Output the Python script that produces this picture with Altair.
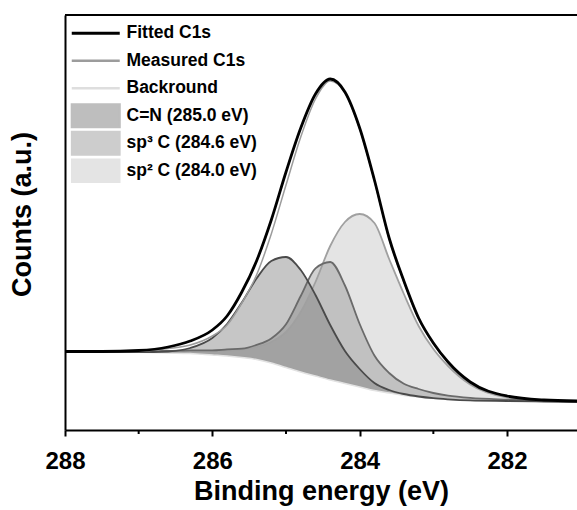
import altair as alt
import pandas as pd

# Binding energy grid (eV)
energy = [288.0, 287.5, 287.0, 286.6, 286.3, 286.0, 285.8, 285.6, 285.4, 285.2,
          285.0, 284.8, 284.6, 284.4, 284.2, 284.0, 283.8, 283.6, 283.4, 283.2,
          283.0, 282.8, 282.5, 282.0, 281.5, 281.05]

# Counts (a.u.)
background = [78, 78, 77.7, 77, 76.5, 75, 74, 72.5, 70.5, 67,
              62.5, 58, 54, 50, 46.5, 43, 39.5, 37, 34.5, 33,
              31.5, 30.5, 29.5, 29, 28.5, 28]
c_n = [78, 78, 77.8, 78.5, 82, 92, 106, 127.5, 151.5, 169,
       173, 160, 135, 105, 79, 61, 47, 40, 36, 33.5,
       31.8, 30.7, 29.6, 29, 28.5, 28]
sp3_c = [78.6, 78.7, 78.8, 79.0, 79.6, 79.7, 80.6, 81.3, 85.1, 91.6,
         105.8, 134, 161.6, 168, 144.5, 106, 74.5, 57, 46.2, 41,
         37, 34.4, 32.1, 30.4, 29.3, 28.6]
sp2_c = [78.3, 78.4, 78.4, 78.4, 78.8, 79.0, 79.5, 80.5, 83, 88,
         98, 118, 148, 184, 208, 216, 207, 171, 136, 104,
         81, 64, 45.5, 32.6, 29.5, 28.5]
fitted = [78.5, 78.5, 79.5, 83, 89, 100, 114, 138, 169, 210,
          258, 302, 336, 351, 338, 302, 250, 192, 149, 112,
          87, 68, 48, 34, 30, 29]
measured = [78.5, 78.5, 79, 81.5, 85, 94, 105, 127, 155, 196,
            245, 293, 331, 349, 337, 301, 249, 191, 148, 111,
            86.5, 67.5, 47.5, 33.8, 29.8, 28.8]

x_ticks = [288, 286, 284, 282]
minor_ticks = [287, 285, 283]

series_names = ["Fitted C1s", "Measured C1s", "Backround",
                "C=N (285.0 eV)", "sp\u00b3 C (284.6 eV)", "sp\u00b2 C (284.0 eV)"]
LINE = "M-4,0L4,0"
RECT = "M-4,-1.92L4,-1.92L4,1.92L-4,1.92Z"
legend_shape = [LINE, LINE, LINE, RECT, RECT, RECT]
legend_fill = ["rgba(0,0,0,0)", "rgba(0,0,0,0)", "rgba(0,0,0,0)", "#bebebe", "#cdcdcd", "#e4e4e4"]
legend_stroke = ["#000000", "#9c9c9c", "#dedede", "#bebebe", "#cdcdcd", "#e4e4e4"]
legend_width = [3, 1.5, 1.5, 0.5, 0.5, 0.5]

df = pd.DataFrame({"energy": energy, "bg": background, "cn": c_n, "sp3": sp3_c,
                   "sp2": sp2_c, "fit": fitted, "meas": measured})
FONT = "Liberation Sans"

xscale = alt.Scale(domain=[281.05, 288], reverse=True, nice=False, zero=False)
yscale = alt.Scale(domain=[0, 415], nice=False, zero=False)

xaxis = alt.Axis(values=x_ticks, format="d", title="Binding energy (eV)", grid=False,
                 labelFont=FONT, labelFontSize=24, labelFontWeight="bold", labelColor="black",
                 labelPadding=13, labelFlush=False, labelOverlap=False,
                 tickSize=6, tickWidth=2, tickColor="black", domainColor="black", domainWidth=2,
                 titleFont=FONT, titleFontSize=27, titleFontWeight="bold", titleColor="black",
                 titleX=256, titleY=69, titleBaseline="alphabetic", titleAlign="center")
yaxis = alt.Axis(title="Counts (a.u.)", labels=False, ticks=False, grid=False,
                 domainColor="black", domainWidth=2,
                 titleFont=FONT, titleFontSize=27, titleFontWeight="bold", titleColor="black",
                 titleX=-35, titleY=199, titleBaseline="alphabetic", titleAlign="center", titleAngle=270)

base = alt.Chart(df)
X = alt.X("energy:Q", scale=xscale, axis=xaxis)
Y = lambda f: alt.Y(f + ":Q", scale=yscale, axis=yaxis)

area_sp2 = base.mark_area(interpolate="monotone", color="#d8d8d8", opacity=0.7).encode(x=X, y=Y("sp2"), y2="bg:Q")
area_sp3 = base.mark_area(interpolate="monotone", color="#8c8c8c", opacity=0.4).encode(x=X, y=Y("sp3"), y2="bg:Q")
area_cn = base.mark_area(interpolate="monotone", color="#767676", opacity=0.42).encode(x=X, y=Y("cn"), y2="bg:Q")

line_bg = base.mark_line(interpolate="monotone", color="#e2e2e2", strokeWidth=1.5).encode(x=X, y=Y("bg"))
line_sp2 = base.mark_line(interpolate="monotone", color="#a0a0a0", strokeWidth=1.8).encode(x=X, y=Y("sp2"))
line_sp3 = base.mark_line(interpolate="monotone", color="#6a6a6a", strokeWidth=1.8).encode(x=X, y=Y("sp3"))
line_cn = base.mark_line(interpolate="monotone", color="#4a4a4a", strokeWidth=1.8).encode(x=X, y=Y("cn"))
line_meas = base.mark_line(interpolate="monotone", color="#9c9c9c", strokeWidth=1.5).encode(x=X, y=Y("meas"))
line_fit = base.mark_line(interpolate="monotone", color="black", strokeWidth=2.8).encode(x=X, y=Y("fit"))

minor = alt.Chart(pd.DataFrame({"energy": minor_ticks})).mark_rule(color="black", strokeWidth=2).encode(
    x=alt.X("energy:Q", scale=xscale, axis=xaxis), y=alt.value(415), y2=alt.value(419))

top_border = alt.Chart(pd.DataFrame({"energy": [288]})).mark_rule(color="black", strokeWidth=2).encode(
    x=alt.value(0), x2=alt.value(512), y=alt.value(0))

leg = alt.Legend(orient="none", legendX=22, legendY=9.5, direction="vertical", title=None,
                 labelFont=FONT, labelFontSize=17.5, labelFontWeight="bold", labelColor="black",
                 symbolSize=144, labelOffset=22, rowPadding=-4.5, gridAlign="all", padding=0,
                 symbolOpacity=1, labelLimit=400)
legend_df = pd.DataFrame({"series": series_names, "energy": [289.5] * 6, "c": [200] * 6})
legend_layer = alt.Chart(legend_df).mark_point(size=144, clip=True).encode(
    x=alt.X("energy:Q", scale=xscale, axis=xaxis),
    y=alt.Y("c:Q", scale=yscale, axis=yaxis),
    fill=alt.Fill("series:N", sort=series_names, scale=alt.Scale(domain=series_names, range=legend_fill), legend=leg),
    stroke=alt.Stroke("series:N", sort=series_names, scale=alt.Scale(domain=series_names, range=legend_stroke), legend=leg),
    shape=alt.Shape("series:N", sort=series_names, scale=alt.Scale(domain=series_names, range=legend_shape), legend=leg),
    strokeWidth=alt.StrokeWidth("series:N", sort=series_names, scale=alt.Scale(domain=series_names, range=legend_width), legend=leg),
)

chart = alt.layer(area_sp2, area_sp3, area_cn, line_bg, line_sp2, line_sp3, line_cn,
                  line_meas, line_fit, minor, top_border, legend_layer).properties(
    width=512, height=415,
    padding={"left": 65, "top": 15, "right": 0, "bottom": 80},
    autosize=alt.AutoSizeParams(type="none"),
    background="white",
).configure_view(stroke=None)

chart.save("out.html", embed_options={"renderer": "svg", "actions": False})
